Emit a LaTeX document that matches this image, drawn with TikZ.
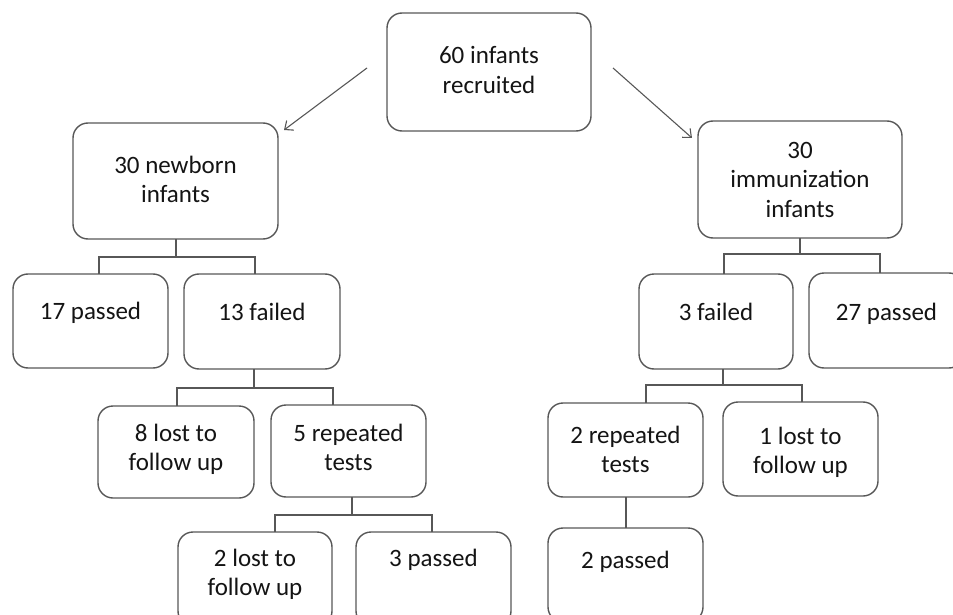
\documentclass[tikz,border=0pt]{standalone}
\usepackage{fontspec}
\setmainfont{Carlito}
\usetikzlibrary{arrows.meta}
\definecolor{edgegray}{HTML}{575757}
\definecolor{txtgray}{HTML}{141414}
% #1 box height, #2 box width, #3 first baseline below top, #4 text
\newcommand\boxtxt[4]{\parbox[c][#1pt][t]{#2pt}{\centering\vspace*{\dimexpr#3pt-20.65pt\relax}\strut #4\strut}}
\begin{document}
\begin{tikzpicture}[x=1pt,y=-1pt,
  box/.style={draw=edgegray, line width=1.4pt, rounded corners=15pt,
    text=txtgray, font=\fontsize{25}{29.5}\selectfont, inner sep=0pt, outer sep=0pt},
  conn/.style={draw=edgegray, line width=1.4pt},
  arr/.style={draw=edgegray, line width=1.1pt, -{Straight Barb[length=7pt,width=12pt,line width=1.1pt]}}
]
\useasboundingbox (0,0) rectangle (953,615);
\clip (0,0) rectangle (953,615);
% level 0
\node[box] (top) at (489,72) {\boxtxt{118}{204}{51}{60 infants\\\strut recruited}};
% level 1
\node[box] (nb) at (175.5,181) {\boxtxt{116}{205}{50}{30 newborn\\\strut infants}};
\node[box] (im) at (800,179.5) {\boxtxt{117}{204}{37}{30\\\strut immunization\\\strut infants}};
% level 2
\node[box] (p17) at (90.5,321) {\boxtxt{94}{155}{45}{17 passed}};
\node[box] (f13) at (262,321.5) {\boxtxt{95}{156}{46}{13 failed}};
\node[box] (f3) at (716,321.5) {\boxtxt{95}{154}{46}{3 failed}};
\node[box] (p27) at (886.5,320.5) {\boxtxt{95}{155}{47}{27 passed}};
% level 3
\node[box] (l8) at (176,452) {\boxtxt{92}{156}{35}{8 lost to\\\strut follow up}};
\node[box] (r5) at (348.5,451) {\boxtxt{92}{155}{36}{5 repeated\\\strut tests}};
\node[box] (r2) at (625.5,450) {\boxtxt{94}{155}{40}{2 repeated\\\strut tests}};
\node[box] (l1) at (800.5,449) {\boxtxt{94}{155}{42}{1 lost to\\\strut follow up}};
% level 4
\node[box] (l2) at (255,579) {\boxtxt{94}{154}{34}{2 lost to\\\strut follow up}};
\node[box] (p3) at (433.5,579) {\boxtxt{94}{155}{34}{3 passed}};
\node[box] (p2) at (625.5,575) {\boxtxt{94}{155}{40}{2 passed}};
% arrows
\draw[arr] ([shift={(-20,-4)}]top.west) -- ([shift={(6,7)}]nb.north east);
\draw[arr] ([shift={(22,-4)}]top.east) -- ([shift={(-6,17)}]im.north west);
% connectors
\draw[conn] ([xshift=0.5pt]nb.south) -- ++(0,18) -| ([xshift=8.5pt]p17.north);
\draw[conn] ([xshift=0.5pt]nb.south) ++(0,18) -| ([xshift=-7pt]f13.north);
\draw[conn] ([xshift=-8pt]f13.south) -- ++(0,19) -| ([xshift=1pt]l8.north);
\draw[conn] ([xshift=-8pt]f13.south) ++(0,19) -| ([xshift=-15.5pt]r5.north);
\draw[conn] ([xshift=3.5pt]r5.south) -- ++(0,18) -| ([xshift=20pt]l2.north);
\draw[conn] ([xshift=3.5pt]r5.south) ++(0,18) -| ([xshift=-1.5pt]p3.north);
\draw[conn] (im.south) -- ++(0,16) -| ([xshift=8pt]f3.north);
\draw[conn] (im.south) ++(0,16) -| ([xshift=-6.5pt]p27.north);
\draw[conn] ([xshift=7pt]f3.south) -- ++(0,16) -| ([xshift=20.5pt]r2.north);
\draw[conn] ([xshift=7pt]f3.south) ++(0,16) -| ([xshift=1.5pt]l1.north);
\draw[conn] ([xshift=0.5pt]r2.south) -- ([xshift=0.5pt]p2.north);
\end{tikzpicture}
\end{document}
